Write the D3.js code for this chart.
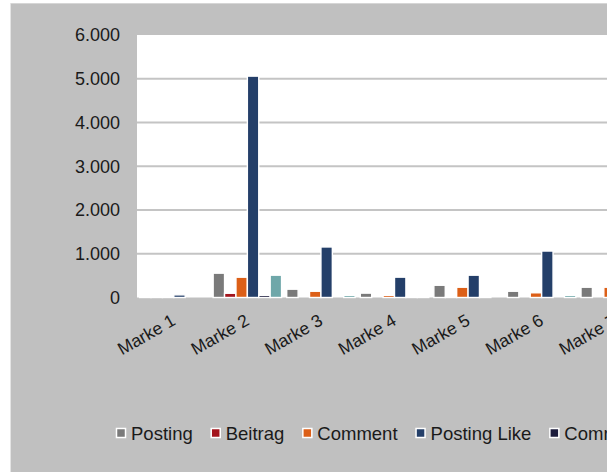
<!DOCTYPE html>
<html>
<head>
<meta charset="utf-8">
<script src="https://cdn.jsdelivr.net/npm/d3@7"></script>
<style>
  html, body { margin: 0; padding: 0; background: #fff; overflow: hidden; }
  text { font-family: "Liberation Sans", Arial, sans-serif; }
</style>
</head>
<body>
<svg width="700" height="472"></svg>
<script>
const categories = ['Marke 1', 'Marke 2', 'Marke 3', 'Marke 4', 'Marke 5', 'Marke 6', 'Marke 7'];
const seriesNames = ['Posting', 'Beitrag', 'Comment', 'Posting Like', 'Comment Like', 'Beitrag Like'];

const posting     = [5, 556, 190, 100, 280, 143, 235];
const beitrag     = [5, 97, 0, 0, 3, 0, 0];
const comment     = [5, 464, 143, 50, 235, 108, 235];
const postingLike = [60, 5060, 1155, 465, 510, 1062, 300];
const commentLike = [0, 50, 0, 4, 4, 0, 0];
const beitragLike = [0, 510, 50, 4, 0, 50, 0];

const yTicks = [0, 1000, 2000, 3000, 4000, 5000, 6000];

const seriesValues = [posting, beitrag, comment, postingLike, commentLike, beitragLike];
const colors = ['#7a7a7a', '#a3141c', '#dc5f17', '#243f69', '#1d1d3d', '#6fa7a9'];

const svg = d3.select('svg');
const locale = d3.formatLocale({decimal: ',', thousands: '.', grouping: [3], currency: ['', '€']});
const fmt = locale.format(',d');

const plot = {left: 137, top: 35, right: 652, bottom: 297.5};

// outer chart area
svg.append('line')
    .attr('x1', 10.5).attr('x2', 10.5).attr('y1', 3).attr('y2', 472)
    .attr('stroke', '#e4e4e4');
svg.append('rect')
    .attr('x', 11).attr('y', 3)
    .attr('width', 700).attr('height', 480)
    .attr('fill', '#c0c0c0');
svg.append('line')
    .attr('x1', 11).attr('x2', 700).attr('y1', 3.5).attr('y2', 3.5)
    .attr('stroke', '#d6d6d6');

svg.append('rect')
    .attr('x', plot.left).attr('y', plot.top)
    .attr('width', plot.right - plot.left + 40).attr('height', plot.bottom - plot.top)
    .attr('fill', '#fff');

const x0 = d3.scaleBand()
    .domain(categories)
    .range([plot.left, plot.right])
    .paddingInner(0.07)
    .paddingOuter(0.035);

const x1 = d3.scaleBand()
    .domain(seriesNames)
    .range([0, x0.bandwidth()]);

const y = d3.scaleLinear()
    .domain([0, 6000])
    .range([plot.bottom, plot.top]);

// gridlines
svg.append('g')
    .selectAll('line')
    .data(yTicks.filter(d => d > 0 && d < 6000))
    .enter().append('line')
    .attr('x1', plot.left)
    .attr('x2', 700)
    .attr('y1', d => y(d))
    .attr('y2', d => y(d))
    .attr('stroke', '#c4c4c4')
    .attr('stroke-width', 2);

// y axis labels
const yAxis = svg.append('g')
    .attr('transform', `translate(${plot.left},0)`)
    .call(d3.axisLeft(y).tickValues(yTicks).tickFormat(fmt).tickSize(0).tickPadding(17));
yAxis.select('.domain').remove();
yAxis.selectAll('text')
    .attr('font-size', 18)
    .attr('fill', '#1a1a1a')
    .attr('font-family', '"Liberation Sans", Arial, sans-serif');

// bars
const rows = categories.map((c, i) => ({
    cat: c,
    vals: seriesNames.map((s, j) => ({series: s, value: seriesValues[j][i], color: colors[j]}))
}));

svg.append('g')
    .selectAll('g')
    .data(rows)
    .enter().append('g')
    .attr('transform', d => `translate(${x0(d.cat)},0)`)
    .selectAll('rect')
    .data(d => d.vals)
    .enter().append('rect')
    .attr('x', d => x1(d.series))
    .attr('width', x1.bandwidth())
    .attr('y', d => y(d.value))
    .attr('height', d => plot.bottom - y(d.value))
    .attr('fill', d => d.color)
    .attr('stroke', '#fff')
    .attr('stroke-width', 1.4);

// x labels
svg.append('g')
    .selectAll('text')
    .data(categories)
    .enter().append('text')
    .attr('transform', d => `translate(${x0(d) + x0.bandwidth() / 2 + 3},324) rotate(-30)`)
    .attr('text-anchor', 'end')
    .attr('font-size', 17.5)
    .attr('fill', '#1a1a1a')
    .text(d => d);

// legend
const legend = svg.append('g');
let lx = 116;
seriesNames.forEach((name, i) => {
    legend.append('rect')
        .attr('x', lx + 0.5).attr('y', 428.5)
        .attr('width', 9).attr('height', 9)
        .attr('fill', colors[i])
        .attr('stroke', '#fff')
        .attr('stroke-width', 1.5);
    const t = legend.append('text')
        .attr('x', lx + 15)
        .attr('y', 440)
        .attr('font-size', 18.5)
        .attr('fill', '#1a1a1a')
        .text(name);
    lx += 15 + t.node().getComputedTextLength() + 18;
});
</script>
</body>
</html>
